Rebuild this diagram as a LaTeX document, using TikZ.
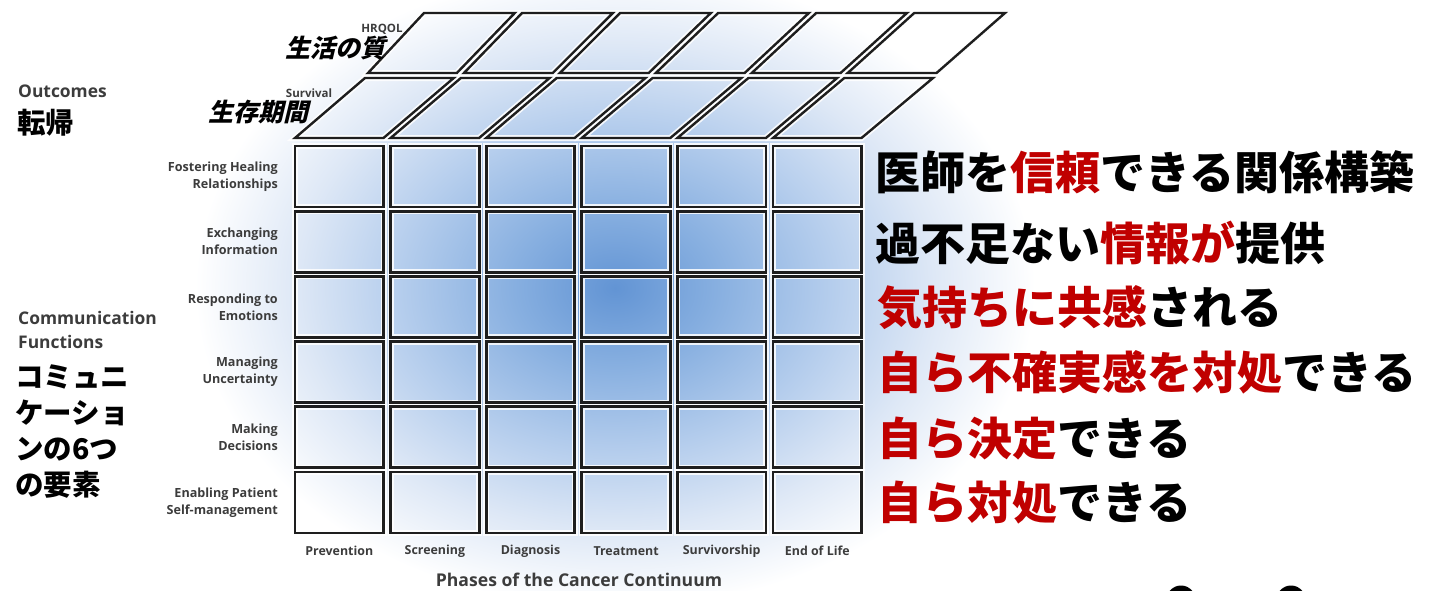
\documentclass[tikz,border=0pt]{standalone}
\usepackage{fontspec}
\setmainfont{Open Sans}
\newfontfamily\jp{Noto Sans CJK JP}
\newfontfamily\jpsl{Noto Sans CJK JP}[FakeSlant=0.24]
\definecolor{g0}{RGB}{98,148,212}
\definecolor{g1}{RGB}{135,175,224}
\definecolor{g2}{RGB}{182,206,237}
\definecolor{g3}{RGB}{222,232,246}
\definecolor{jred}{RGB}{192,0,0}
\definecolor{lab}{RGB}{60,60,60}
\definecolor{edge}{RGB}{30,30,30}
\pgfdeclareradialshading{glow}{\pgfpoint{0bp}{0bp}}{color(0bp)=(g0); color(6bp)=(g1); color(13bp)=(g2); color(19bp)=(g3); color(25bp)=(white); color(50bp)=(white)}
\tikzset{
  halo/.style={draw=white, draw opacity=0.85, line width=6pt, line join=miter},
  cellline/.style={draw=edge, line width=2.8pt, line join=miter},
  topline/.style={draw=edge, line width=2.4pt, line join=miter},
  rowlab/.style={font=\fontsize{12.6}{17}\selectfont\bfseries, text=lab, align=right, anchor=east, inner sep=0pt},
  collab/.style={font=\fontsize{12.4}{14}\selectfont\bfseries, text=lab, anchor=center, inner sep=0pt},
  biglab/.style={font=\fontsize{17.4}{24}\selectfont\bfseries, text=lab, align=left, anchor=west, inner sep=0pt},
  rtext/.style={font=\jp\bfseries\fontsize{45}{50}\selectfont, anchor=base west, inner sep=0pt},
  ljp/.style={font=\jp\bfseries\fontsize{28.5}{36}\selectfont, anchor=base west, inner sep=0pt},
  sljp/.style={font=\jpsl\bfseries\fontsize{25}{30}\selectfont, anchor=center, inner sep=0pt},
  smlab/.style={font=\fontsize{11.5}{13}\selectfont\bfseries, text=lab, anchor=center, inner sep=0pt}
}
\begin{document}
\begin{tikzpicture}[x=1pt,y=-1pt]
\useasboundingbox (0,0) rectangle (1432,590);
\clip (0,0) rectangle (1432,590);
\fill[white] (0,0) rectangle (1432,590);
\shade[shading=glow] (615,288) ellipse [x radius=420pt, y radius=320pt];
% top layers: corners interpolated across the width
\foreach \st in {halo,topline}{
  \foreach \i in {0,...,5}{
    \pgfmathsetmacro\ta{(95.6*\i)/566.5}
    \pgfmathsetmacro\tb{(95.6*\i+88.5)/566.5}
    % survival layer
    \pgfmathsetmacro\sba{295+566.5*\ta}
    \pgfmathsetmacro\sbb{295+566.5*\tb}
    \pgfmathsetmacro\sta{365+568*\ta}
    \pgfmathsetmacro\stb{365+568*\tb}
    % hrqol layer
    \pgfmathsetmacro\hba{368+568.5*\ta}
    \pgfmathsetmacro\hbb{368+568.5*\tb}
    \pgfmathsetmacro\hta{424+581*\ta}
    \pgfmathsetmacro\htb{424+581*\tb}
    \draw[\st] (\sba,138) -- (\sbb,138) -- (\stb,78) -- (\sta,78) -- cycle;
    \draw[\st] (\hba,73) -- (\hbb,73) -- (\htb,13) -- (\hta,13) -- cycle;
  }
}
% front cells
\foreach \st in {halo,cellline}{
  \foreach \i in {0,...,5}{
    \pgfmathsetmacro\xa{295+95.6*\i}
    \foreach \j in {0,...,5}{
      \pgfmathsetmacro\ya{146+65.2*\j}
      \draw[\st] (\xa,\ya) rectangle ++(88.5,61);
    }
  }
}
% row labels
\node[rowlab] (r0) at (278,176.5) {Fostering Healing\\Relationships};
\node[rowlab] (r1) at (278,241.7) {Exchanging\\Information};
\node[rowlab] (r2) at (278,306.9) {Responding to\\Emotions};
\node[rowlab] (r3) at (278,372.1) {Managing\\Uncertainty};
\node[rowlab] (r4) at (278,437.3) {Making\\Decisions};
\node[rowlab] (r5) at (278,502.5) {Enabling Patient\\Self-management};
% column labels
\node[collab] (c0) at (339.3,551) {Prevention};
\node[collab] (c1) at (434.9,551) {Screening};
\node[collab] (c2) at (530.5,551) {Diagnosis};
\node[collab] (c3) at (626.1,551) {Treatment};
\node[collab] (c4) at (721.7,551) {Survivorship};
\node[collab] (c5) at (817.3,551) {End of Life};
\node[font=\fontsize{17.6}{20}\selectfont\bfseries, text=lab, inner sep=0pt] (phases) at (579,580) {Phases of the Cancer Continuum};
% left labels
\node[biglab] (outc) at (18,91) {Outcomes};
\node[ljp] (tenki) at (17,133) {転帰};
\node[biglab] (comm) at (18,330) {Communication\\Functions};
\node[ljp] (j1) at (15,387) {コミュニ};
\node[ljp] (j2) at (15,423) {ケーショ};
\node[ljp] (j3) at (15,459) {ンの6つ};
\node[ljp] (j4) at (15,495) {の要素};
% top labels
\node[smlab] (hrqol) at (382,29) {HRQOL};
\node[smlab] (surv) at (309,93) {Survival};
\node[sljp] (qol) at (335,48) {生活の質};
\node[sljp] (seizon) at (258,112) {生存期間};
% right text
\node[rtext] (t1) at (875,189) {医師を\textcolor{jred}{信頼}できる関係構築};
\node[rtext] (t2) at (875,260) {過不足ない\textcolor{jred}{情報が}提供};
\node[rtext] (t3) at (877,324) {\textcolor{jred}{気持ちに共感}される};
\node[rtext] (t4) at (877,389) {\textcolor{jred}{自ら不確実感を対処}できる};
\node[rtext] (t5) at (877,455) {\textcolor{jred}{自ら決定}できる};
\node[rtext] (t6) at (877,519) {\textcolor{jred}{自ら対処}できる};
% cut-off shapes at bottom edge
\fill[black] (1181,600) circle (14.5pt);
\fill[black] (1291,600) circle (14.5pt);
\end{tikzpicture}
\end{document}
